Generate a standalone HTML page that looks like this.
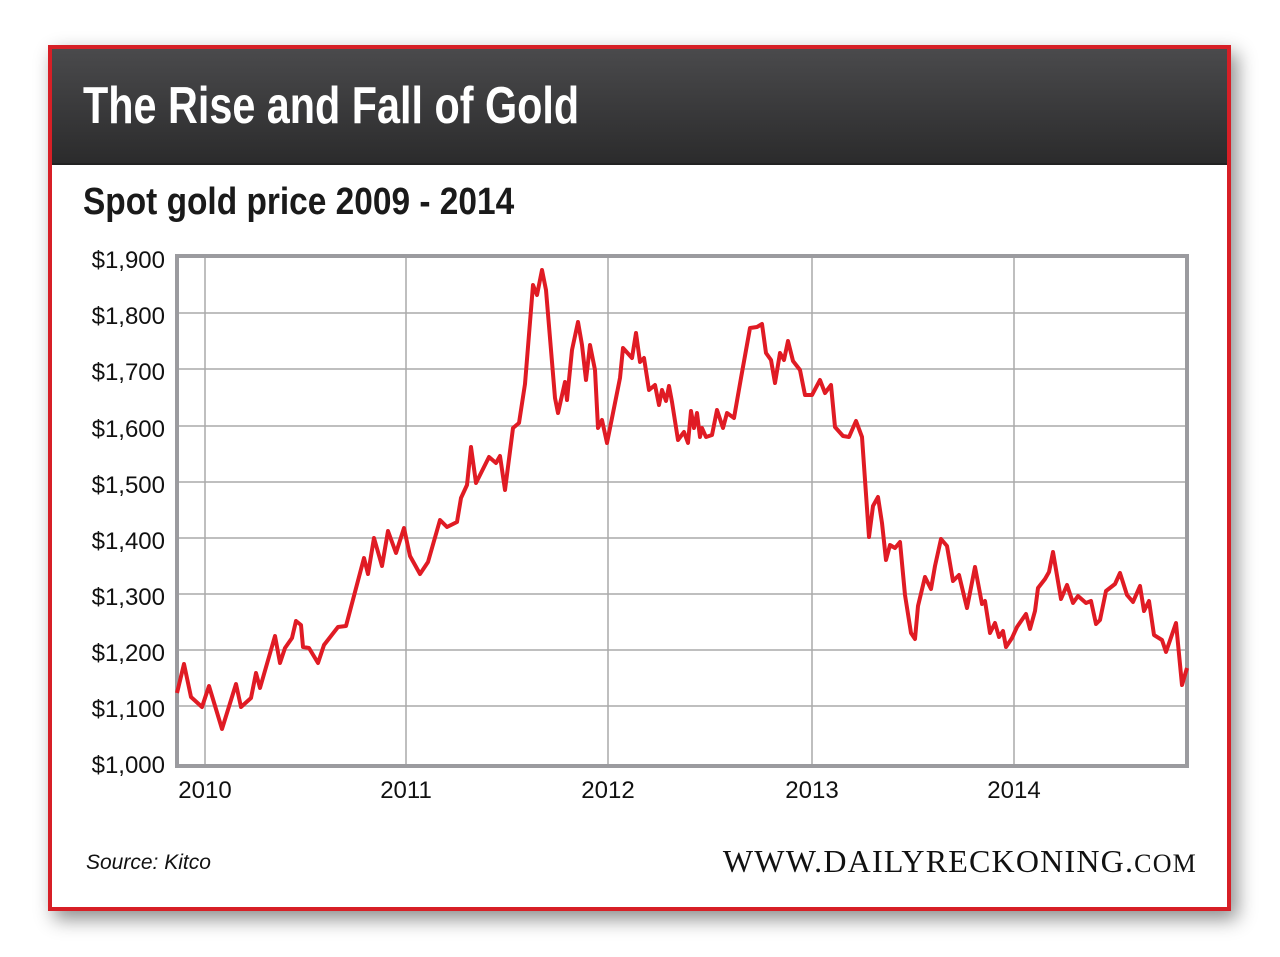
<!DOCTYPE html>
<html><head><style>
body{margin:0;background:#fff;width:1280px;height:957px;overflow:hidden;font-family:"Liberation Sans",sans-serif}
.frame{position:absolute;left:48px;top:45px;width:1175px;height:858px;border:4px solid #d71f26;background:#fff;box-shadow:6px 8px 18px rgba(0,0,0,0.45)}
.head{position:absolute;left:0;top:0;width:1175px;height:114px;background:linear-gradient(#4a4a4c,#2b2b2c);border-bottom:2px solid #222}
.t{position:absolute;white-space:nowrap;font-weight:bold;transform-origin:0 0}
</style></head><body>
<div class="frame"><div class="head"></div></div>
<div class="t" style="left:83px;top:76px;font-size:52px;color:#fff;transform:scaleX(0.795)">The Rise and Fall of Gold</div>
<div class="t" style="left:83px;top:181px;font-size:38px;color:#1a1a1a;transform:scaleX(0.88)">Spot gold price 2009 - 2014</div>
<svg width="1280" height="957" style="position:absolute;left:0;top:0">
<g stroke="#aaa" stroke-width="1.5">
<line x1="177" x2="1187" y1="313" y2="313"/><line x1="177" x2="1187" y1="369" y2="369"/><line x1="177" x2="1187" y1="426" y2="426"/><line x1="177" x2="1187" y1="482" y2="482"/><line x1="177" x2="1187" y1="538" y2="538"/><line x1="177" x2="1187" y1="594" y2="594"/><line x1="177" x2="1187" y1="650" y2="650"/><line x1="177" x2="1187" y1="706" y2="706"/>
<line x1="205" x2="205" y1="257" y2="766"/><line x1="406" x2="406" y1="257" y2="766"/><line x1="608" x2="608" y1="257" y2="766"/><line x1="812" x2="812" y1="257" y2="766"/><line x1="1014" x2="1014" y1="257" y2="766"/>
</g>
<rect x="177" y="256" width="1010" height="510" fill="none" stroke="#9b9b9f" stroke-width="4"/>
<polyline fill="none" stroke="#e01b24" stroke-width="4" stroke-linejoin="round" points="177,693 184,664 191,697 202,707 209,686 222,729 236,684 241,707 251,698 256,673 260,688 275,636 280,663 285,648 292,638 296,621 301,625 303,647 309,648 318,663 324,645 338,627 346,626 364,558 368,574 374,538 382,566 388,531 396,553 404,528 410,556 420,574 428,562 440,520 447,527 457,522 461,498 467,485 471,447 476,483 489,457 496,463 500,456 505,490 513,428 519,423 525,384 533,285 537,295 542,270 546,290 551,350 555,398 558,413 565,382 567,400 572,350 578,322 582,345 586,380 590,345 595,370 598,428 602,420 607,443 620,378 623,348 632,358 636,333 640,362 644,358 649,390 655,385 659,405 662,390 666,401 669,386 672,402 678,440 684,432 688,443 691,411 694,428 697,413 700,437 702,428 706,437 712,435 717,410 723,428 727,413 734,418 741,378 750,328 757,327 762,324 766,353 771,360 775,383 780,353 784,360 788,341 793,361 800,370 805,395 812,395 820,380 825,393 831,385 835,427 843,436 849,437 856,421 862,437 869,537 873,506 878,497 882,523 886,560 890,545 895,548 900,542 905,595 911,633 915,639 918,606 925,577 931,589 935,566 941,539 947,546 953,581 959,575 967,608 975,567 982,604 985,601 990,633 995,623 999,637 1003,631 1006,647 1012,638 1017,627 1026,614 1030,629 1035,611 1038,588 1045,579 1049,572 1053,552 1061,599 1067,585 1073,603 1078,596 1086,603 1091,601 1096,624 1100,620 1106,591 1115,584 1120,573 1127,595 1133,602 1140,586 1144,611 1149,601 1154,635 1162,640 1166,652 1176,623 1182,685 1187,668"/>
<g font-size="24" fill="#111" text-anchor="end" font-family="Liberation Sans,sans-serif">
<text x="165" y="268">$1,900</text><text x="165" y="324">$1,800</text><text x="165" y="380">$1,700</text><text x="165" y="437">$1,600</text><text x="165" y="493">$1,500</text><text x="165" y="549">$1,400</text><text x="165" y="605">$1,300</text><text x="165" y="661">$1,200</text><text x="165" y="717">$1,100</text><text x="165" y="773">$1,000</text>
</g>
<g font-size="24" fill="#111" text-anchor="middle" font-family="Liberation Sans,sans-serif">
<text x="205" y="798">2010</text><text x="406" y="798">2011</text><text x="608" y="798">2012</text><text x="812" y="798">2013</text><text x="1014" y="798">2014</text>
</g>
<text x="86" y="869" font-size="21" font-style="italic" fill="#111" font-family="Liberation Sans,sans-serif">Source: Kitco</text>
<text x="1197" y="872" font-size="32" fill="#111" text-anchor="end" font-family="Liberation Serif,serif" letter-spacing="1.2">WWW.DAILYRECKONING.<tspan font-size="26">COM</tspan></text>
</svg>
</body></html>
